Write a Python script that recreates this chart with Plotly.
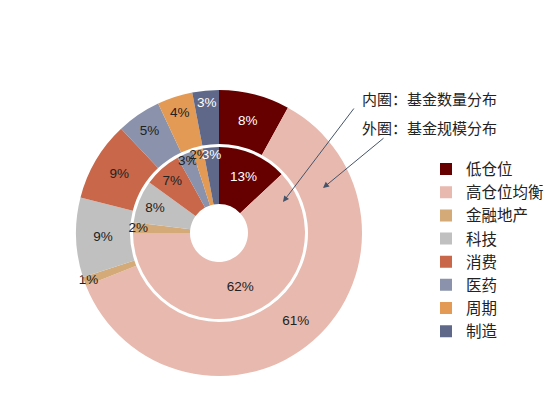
import plotly.graph_objects as go

labels = ["低仓位", "高仓位均衡", "金融地产", "科技", "消费", "医药", "周期", "制造"]
outer_values = [8, 61, 1, 9, 9, 5, 4, 3]
inner_values = [13, 62, 2, 8, 7, 3, 2, 3]
colors = ["#660000", "#E8B9AE", "#D4AA78", "#C0C0C0",
          "#C8674A", "#8A93AB", "#E39A55", "#5F6888"]
text_colors = ["white", "#222222", "#222222", "#222222",
               "#222222", "#222222", "#222222", "white"]

W, H = 553, 415
OFF = 8  # page body margin
cx, cy = 219 - OFF, 233 - OFF


def px(x):
    return (x - OFF) / W


def py(y):
    return 1 - (y - OFF) / H


def dom(r):
    return dict(x=[(cx - r) / W, (cx + r) / W],
                y=[1 - (cy + r) / H, 1 - (cy - r) / H])


font = "Liberation Sans, Noto Sans CJK SC, sans-serif"

fig = go.Figure()

fig.add_trace(go.Pie(
    labels=labels,
    values=outer_values,
    text=[f"{v}%" for v in outer_values],
    textinfo="text",
    textposition="inside",
    insidetextorientation="horizontal",
    textfont=dict(size=13.5, color=text_colors, family=font),
    marker=dict(colors=colors, line=dict(width=0)),
    hole=89 / 143,
    sort=False,
    direction="clockwise",
    rotation=0,
    domain=dom(143),
    hoverinfo="label+percent",
))

fig.add_trace(go.Pie(
    labels=labels,
    values=inner_values,
    text=[f"{v}%" for v in inner_values],
    textinfo="text",
    textposition="inside",
    insidetextorientation="horizontal",
    textfont=dict(size=13.5, color=text_colors, family=font),
    marker=dict(colors=colors, line=dict(width=0)),
    hole=29 / 86,
    sort=False,
    direction="clockwise",
    rotation=0,
    domain=dom(86),
    showlegend=False,
    hoverinfo="label+percent",
))

# arrows: tip position in paper coords, tail offset in pixels
arrow_color = "#44546A"
fig.add_annotation(x=px(283), y=py(202), ax=72, ay=-95,
                   xref="paper", yref="paper",
                   showarrow=True, arrowhead=2, arrowsize=1.2, arrowwidth=1,
                   arrowcolor=arrow_color, text="")
fig.add_annotation(x=px(323), y=py(188), ax=62, ay=-51,
                   xref="paper", yref="paper",
                   showarrow=True, arrowhead=2, arrowsize=1.2, arrowwidth=1,
                   arrowcolor=arrow_color, text="")
fig.add_annotation(x=px(360), y=py(100), xref="paper", yref="paper",
                   text="内圈：基金数量分布", showarrow=False,
                   xanchor="left", yanchor="middle",
                   font=dict(size=15, color="#222222", family=font))
fig.add_annotation(x=px(360), y=py(128), xref="paper", yref="paper",
                   text="外圈：基金规模分布", showarrow=False,
                   xanchor="left", yanchor="middle",
                   font=dict(size=15, color="#222222", family=font))

fig.update_layout(
    width=W,
    height=H,
    margin=dict(l=0, r=0, t=0, b=0, autoexpand=False),
    paper_bgcolor="white",
    plot_bgcolor="white",
    uniformtext=dict(minsize=13.5, mode="show"),
    legend=dict(
        x=px(426), y=py(152.5),
        xanchor="left", yanchor="top",
        font=dict(size=15.5, color="#222222", family=font),
        traceorder="normal",
        bgcolor="rgba(0,0,0,0)",
    ),
)

fig.write_html("out.html")
